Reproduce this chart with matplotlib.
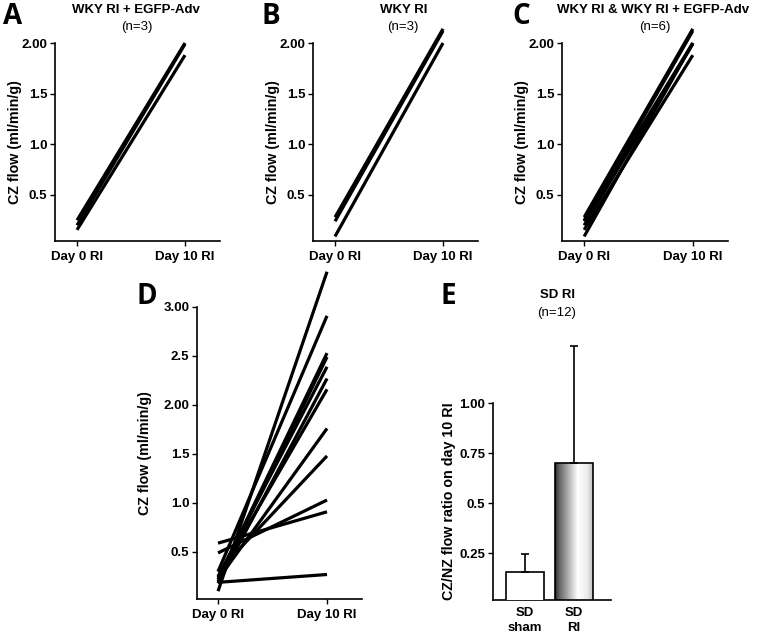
import numpy as np
import matplotlib
matplotlib.use("Agg")
import matplotlib.pyplot as plt

plt.rcParams['font.family'] = ['Liberation Sans', 'DejaVu Sans']

# ---------------- data ----------------
x_labels = ["Day 0 RI", "Day 10 RI"]

a_day0 = [0.25, 0.20, 0.155]
a_day10 = [2.00, 1.99, 1.88]

b_day0 = [0.28, 0.24, 0.09]
b_day10 = [2.14, 2.12, 2.00]

c_day0 = a_day0 + b_day0
c_day10 = a_day10 + b_day10

d_day0 = [0.10, 0.30, 0.22, 0.20, 0.25, 0.18, 0.24, 0.22, 0.30, 0.49, 0.59, 0.19]
d_day10 = [3.36, 2.91, 2.53, 2.49, 2.39, 2.27, 2.16, 1.76, 1.48, 1.03, 0.91, 0.27]

e_categories = ["SD\nsham", "SD\nRI"]
e_means = [0.155, 0.70]
e_err = [0.09, 0.585]

abc_yticks = [0.5, 1.0, 1.5, 2.0]
abc_yticklabels = ["0.5", "1.0", "1.5", "2.00"]
d_yticks = [0.5, 1.0, 1.5, 2.0, 2.5, 3.0]
d_yticklabels = ["0.5", "1.0", "1.5", "2.00", "2.5", "3.00"]
e_yticks = [0.25, 0.5, 0.75, 1.0]
e_yticklabels = ["0.25", "0.5", "0.75", "1.00"]

# ---------------- figure ----------------
W, H = 764, 635
fig = plt.figure(figsize=(W / 100, H / 100), dpi=100)

FS = 9.5
LFS = 10.3


def ax_px(l, t, r, b):
    return fig.add_axes([l / W, 1 - b / H, (r - l) / W, (b - t) / H])


def style(ax):
    for s in ["top", "right"]:
        ax.spines[s].set_visible(False)
    for s in ["left", "bottom"]:
        ax.spines[s].set_linewidth(1.2)
    ax.tick_params(direction="out", length=3.5, width=1.0, pad=2)
    ax.tick_params(axis="x", pad=4)
    for lab in ax.get_xticklabels() + ax.get_yticklabels():
        lab.set_fontweight("bold")
        lab.set_fontsize(FS)


def paired(ax, d0, d10, yticks, yticklabels, ylim, xlim):
    for y0, y1 in zip(d0, d10):
        ax.plot([0, 1], [y0, y1], color="black", lw=2.3,
                solid_capstyle="butt", clip_on=False)
    ax.set_xlim(*xlim)
    ax.set_ylim(*ylim)
    ax.set_xticks([0, 1])
    ax.set_xticklabels(x_labels)
    ax.set_yticks(yticks)
    ax.set_yticklabels(yticklabels)
    ax.set_ylabel("CZ flow (ml/min/g)", fontsize=LFS, fontweight="bold")
    style(ax)
    ax.yaxis.set_label_coords(-0.2, 0.5)


xl = (-0.204, 1.324)
axA = ax_px(55, 43, 220, 241)
paired(axA, a_day0, a_day10, abc_yticks, abc_yticklabels, (0.045, 2.0), xl)
axB = ax_px(313, 43, 478, 241)
paired(axB, b_day0, b_day10, abc_yticks, abc_yticklabels, (0.045, 2.0), xl)
axC = ax_px(562, 43, 728, 241)
paired(axC, c_day0, c_day10, abc_yticks, abc_yticklabels, (0.045, 2.0), xl)
axD = ax_px(197, 307, 362, 599)
paired(axD, d_day0, d_day10, d_yticks, d_yticklabels, (0.02, 3.0), (-0.193, 1.321))
axD.yaxis.set_label_coords(-0.27, 0.5)

# ---------------- panel E ----------------
axE = ax_px(493, 403, 611, 600)
xs = np.arange(len(e_categories))
bw = 0.78
axE.set_xlim(-0.66, 1.77)
axE.set_ylim(0.015, 1.0)
bars = axE.bar(xs, e_means, width=bw, color="white", edgecolor="black",
               linewidth=1.2, zorder=3)
# gradient fill for the RI bar
g = np.linspace(0, 1, 200)
vals = np.interp(g, [0, 0.08, 0.6, 0.85, 1.0], [0.12, 0.35, 1.0, 0.92, 0.75])
grad = np.tile(vals, (2, 1))
b1 = bars[1]
axE.imshow(grad, cmap="gray", vmin=0, vmax=1, aspect="auto",
           extent=[b1.get_x(), b1.get_x() + b1.get_width(), axE.get_ylim()[0], b1.get_height()],
           zorder=2, interpolation="bilinear")
b1.set_facecolor("none")
axE.set_xlim(-0.66, 1.77)
axE.set_ylim(0.015, 1.0)
axE.errorbar(xs, e_means, yerr=[np.zeros(len(e_err)), e_err], fmt="none",
             ecolor="black", elinewidth=1.2, capsize=3, capthick=1.2,
             zorder=4, clip_on=False)
axE.set_xticks(xs)
axE.set_xticklabels(e_categories)
axE.set_yticks(e_yticks)
axE.set_yticklabels(e_yticklabels)
style(axE)
axE.tick_params(axis="x", length=0, pad=5)
axE.set_ylabel("CZ/NZ flow ratio on day 10 RI", fontsize=LFS, fontweight="bold")
axE.yaxis.set_label_coords(-0.31, 0.5)
for lab in axE.get_xticklabels():
    lab.set_linespacing(1.35)

# ---------------- titles ----------------
def ftext(x, y, s, **kw):
    fig.text(x / W, 1 - y / H, s, ha="center", va="center", **kw)

ftext(136, 10, "WKY RI + EGFP-Adv", fontsize=FS, fontweight="bold")
ftext(137, 27, "(n=3)", fontsize=FS)
ftext(404, 10, "WKY RI", fontsize=FS, fontweight="bold")
ftext(403, 27, "(n=3)", fontsize=FS)
ftext(653, 10, "WKY RI & WKY RI + EGFP-Adv", fontsize=FS, fontweight="bold")
ftext(655, 27, "(n=6)", fontsize=FS)
ftext(558, 295, "SD RI", fontsize=FS, fontweight="bold")
ftext(557, 313, "(n=12)", fontsize=FS)

# panel letters
LF = dict(fontsize=20, fontweight="bold", family=["Open Sans", "DejaVu Sans"])
ftext(13, 16, "A", **LF)
ftext(271, 16, "B", **LF)
ftext(521, 16, "C", **LF)
ftext(147, 297, "D", **LF)
ftext(448, 297, "E", **LF)

fig.savefig("out.png", dpi=100)
